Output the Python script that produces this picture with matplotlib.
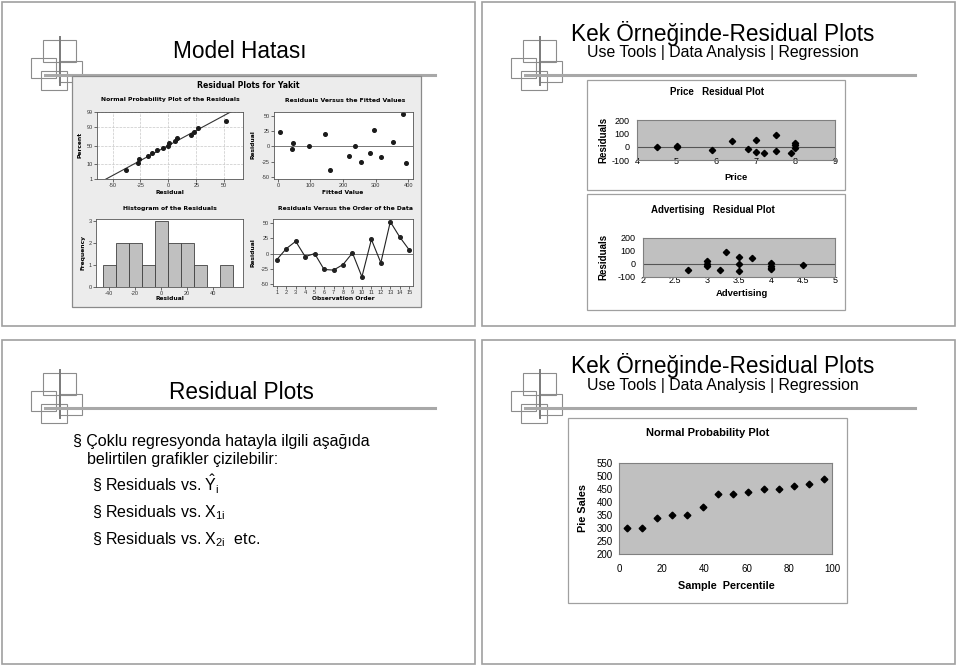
import matplotlib
matplotlib.use('Agg')
import matplotlib.pyplot as plt
from matplotlib.patches import Rectangle
from statistics import NormalDist

plt.rcParams['font.family'] = ['Liberation Sans', 'DejaVu Sans']
plt.rcParams['axes.unicode_minus'] = False
plt.rcParams['mathtext.fontset'] = 'custom'
plt.rcParams['mathtext.rm'] = 'Liberation Sans'
plt.rcParams['mathtext.it'] = 'Liberation Sans:italic'

# --- Minitab residual plots (Yakit) ---
obs_order = list(range(1, 16))
residuals = [-10, 8, 20, -5, 0, -26, -27, -18, 1, -38, 23, -15, 52, 27, 6]
fitted = [283, 354, 145, 44, 94, 255, 392, 318, 237, 160, 7, 218, 385, 294, 46]
npp_resid = [-38, -27, -26, -18, -15, -10, -5, 0, 1, 6, 8, 20, 23, 27, 52]
npp_percent = [4.5, 11.0, 17.5, 24.0, 30.5, 37.0, 43.5, 50.0, 56.5, 63.0, 69.5, 76.0, 82.5, 89.0, 95.5]
npp_ticks = [1, 10, 50, 90, 99]
line_mean, line_sd = 0, 24
hist_centers = [-40, -30, -20, -10, 0, 10, 20, 30, 40, 50]
hist_counts = [1, 2, 2, 1, 3, 2, 2, 1, 0, 1]

# --- Excel residual plots (pie sales) ---
price = [4.5, 5.0, 5.0, 5.9, 6.4, 6.8, 7.0, 7.0, 7.2, 7.5, 7.5, 7.9, 8.0, 8.0, 8.0]
price_resid = [-5, 2, -5, -25, 41, -18, 53, -43, -48, 89, -36, -48, 25, 15, -8]
adv = [2.7, 3.0, 3.0, 3.0, 3.2, 3.3, 3.5, 3.5, 3.5, 3.7, 4.0, 4.0, 4.0, 4.0, 4.5]
adv_resid = [-43, 25, 0, -15, -50, 96, 53, -3, -55, 48, 5, -15, -28, -35, -10]
pie_pct = [3.6, 10.7, 17.9, 25.0, 32.1, 39.3, 46.4, 53.6, 60.7, 67.9, 75.0, 82.1, 89.3, 96.4]
pie_sales = [300, 300, 340, 350, 350, 380, 430, 430, 440, 450, 450, 460, 470, 490]

W, H = 959, 667
fig = plt.figure(figsize=(W / 100, H / 100), dpi=100)
bg = fig.add_axes([0, 0, 1, 1])
bg.set_xlim(0, W)
bg.set_ylim(H, 0)
bg.axis('off')


def px_axes(x0, y0, x1, y1):
    return fig.add_axes([x0 / W, 1 - y1 / H, (x1 - x0) / W, (y1 - y0) / H])


def T(x, y, s, **kw):
    kw.setdefault('ha', 'center')
    kw.setdefault('va', 'center')
    fig.text(x / W, 1 - y / H, s, **kw)


def logo(ox, oy):
    for x0, y0, x1, y1 in [(43, 40, 76, 62), (31, 58, 56, 78), (59, 61, 82, 82), (41, 71, 67, 90)]:
        bg.add_patch(Rectangle((ox + x0, oy + y0), x1 - x0, y1 - y0, fill=False, ec='#8c8c8c', lw=0.8))
    bg.plot([ox + 60, ox + 60], [oy + 37, oy + 85], color='#7a7a7a', lw=1.4)
    bg.plot([ox + 45, ox + 435], [oy + 75, oy + 75], color='#a8a8a8', lw=2.2)


# slide frames
for ox, oy in [(0, 0), (480, 0), (0, 338), (480, 338)]:
    bg.add_patch(Rectangle((ox + 2, oy + 2), 473, 324, fill=False, ec='#a0a0a0', lw=1.2))
for ox, oy in [(0, 0), (480, 0), (0, 333), (480, 333)]:
    logo(ox, oy)

# ---------------- top-left slide ----------------
T(240, 52, 'Model Hatası', fontsize=16.3)
bg.add_patch(Rectangle((72, 76), 349, 231, fc='#ececec', ec='#8a8a8a', lw=0.9, zorder=3))
mt = dict(family='DejaVu Sans', fontweight='bold')
T(248, 86, 'Residual Plots for Yakit', fontsize=5.6, **mt)


def mt_style(ax):
    ax.tick_params(labelsize=4, length=2, width=0.5, pad=1, colors='#333333')
    for sp in ax.spines.values():
        sp.set_color('#555555')
        sp.set_linewidth(0.6)


nd = NormalDist()
zmax = nd.inv_cdf(0.99)

ax = px_axes(97, 112, 243, 179)
mt_style(ax)
z = [nd.inv_cdf(p / 100) for p in npp_percent]
ax.set_xticks([-50, -25, 0, 25, 50])
ax.set_yticks([nd.inv_cdf(p / 100) for p in npp_ticks])
ax.set_yticklabels([str(p) for p in npp_ticks])
ax.grid(True, ls='--', color='#c8c8c8', lw=0.5)
ax.plot([line_mean - 3 * line_sd, line_mean + 3 * line_sd], [-3, 3], color='#333333', lw=0.8)
ax.plot(npp_resid, z, 'o', color='#1a1a1a', ms=2.6)
ax.set_xlim(-64, 67)
ax.set_ylim(-zmax, zmax)
T(170, 100, 'Normal Probability Plot of the Residuals', fontsize=4.4, **mt)
T(170, 192, 'Residual', fontsize=4.3, **mt)
T(80, 145, 'Percent', fontsize=4.3, rotation=90, **mt)

ax = px_axes(274, 112, 413, 179)
mt_style(ax)
ax.axhline(0, color='#777777', lw=0.7)
ax.plot(fitted, residuals, 'o', color='#1a1a1a', ms=2.6)
ax.set_xlim(-12, 415)
ax.set_ylim(-53, 56)
ax.set_xticks([0, 100, 200, 300, 400])
ax.set_yticks([-50, -25, 0, 25, 50])
T(345, 100, 'Residuals Versus the Fitted Values', fontsize=4.4, **mt)
T(343, 192, 'Fitted Value', fontsize=4.3, **mt)
T(253, 145, 'Residual', fontsize=4.3, rotation=90, **mt)

ax = px_axes(96, 219, 243, 287)
mt_style(ax)
ax.bar(hist_centers, hist_counts, width=10, color='#c0c0c0', ec='#404040', lw=0.6)
ax.set_xlim(-50, 63)
ax.set_ylim(0, 3.1)
ax.set_xticks([-40, -20, 0, 20, 40])
ax.set_yticks([0, 1, 2, 3])
T(170, 209, 'Histogram of the Residuals', fontsize=4.4, **mt)
T(170, 299, 'Residual', fontsize=4.3, **mt)
T(83, 253, 'Frequency', fontsize=4.3, rotation=90, **mt)

ax = px_axes(273, 219, 413, 286)
mt_style(ax)
ax.axhline(0, color='#777777', lw=0.7)
ax.plot(obs_order, residuals, '-o', color='#222222', ms=2.6, lw=0.8)
ax.set_xlim(0.6, 15.4)
ax.set_ylim(-53, 56.5)
ax.set_xticks(obs_order)
ax.set_yticks([-50, -25, 0, 25, 50])
T(345, 209, 'Residuals Versus the Order of the Data', fontsize=4.4, **mt)
T(343, 299, 'Observation Order', fontsize=4.3, **mt)
T(253, 253, 'Residual', fontsize=4.3, rotation=90, **mt)


# ---------------- Excel style charts ----------------
def xl_style(ax, lsize=6.5):
    ax.set_facecolor('#c0c0c0')
    for sp in ax.spines.values():
        sp.set_color('#808080')
        sp.set_linewidth(0.8)
    ax.tick_params(labelsize=lsize, length=0)


for ox, oy in [(480, 0), (480, 333)]:
    T(ox + 243, oy + 33, 'Kek Örneğinde-Residual Plots', fontsize=16.3)
    T(ox + 243, oy + 52, 'Use Tools | Data Analysis | Regression', fontsize=11.4)

bg.add_patch(Rectangle((587, 80), 258, 110, fc='white', ec='#a0a0a0', lw=0.9))
bg.add_patch(Rectangle((587, 194), 258, 116, fc='white', ec='#a0a0a0', lw=0.9))

ax = px_axes(637, 120, 835, 160)
xl_style(ax)
ax.axhline(0, color='#555555', lw=0.8)
ax.plot(price, price_resid, 'D', color='black', ms=3.2)
ax.set_xlim(4, 9)
ax.set_ylim(-100, 200)
ax.set_xticks([4, 5, 6, 7, 8, 9])
ax.set_yticks([-100, 0, 100, 200])
ax.tick_params(axis='x', pad=-2.5)
ax.tick_params(axis='y', pad=5.5)
T(717, 92, 'Price   Residual Plot', fontsize=7, fontweight='bold')
T(736, 177, 'Price', fontsize=6.8, fontweight='bold')
T(603, 140, 'Residuals', fontsize=7, fontweight='bold', rotation=90)

ax = px_axes(643, 238, 835, 277)
xl_style(ax)
ax.axhline(0, color='#555555', lw=0.8)
ax.plot(adv, adv_resid, 'D', color='black', ms=3.2)
ax.set_xlim(2, 5)
ax.set_ylim(-100, 200)
ax.set_xticks([2, 2.5, 3, 3.5, 4, 4.5, 5])
ax.set_xticklabels(['2', '2.5', '3', '3.5', '4', '4.5', '5'])
ax.set_yticks([-100, 0, 100, 200])
ax.tick_params(axis='x', pad=-1)
ax.tick_params(axis='y', pad=5.5)
T(713, 210, 'Advertising   Residual Plot', fontsize=7, fontweight='bold')
T(742, 294, 'Advertising', fontsize=6.8, fontweight='bold')
T(603, 257, 'Residuals', fontsize=7, fontweight='bold', rotation=90)

# ---------------- bottom-right slide ----------------
bg.add_patch(Rectangle((568, 418), 279, 185, fc='white', ec='#a0a0a0', lw=0.9))
ax = px_axes(619, 463, 832, 554)
xl_style(ax, lsize=7)
ax.plot(pie_pct, pie_sales, 'D', color='black', ms=3.4)
ax.set_xlim(0, 100)
ax.set_ylim(200, 550)
ax.set_xticks([0, 20, 40, 60, 80, 100])
ax.set_yticks([200, 250, 300, 350, 400, 450, 500, 550])
ax.tick_params(axis='x', pad=7)
ax.tick_params(axis='y', pad=4.3)
T(708, 433, 'Normal Probability Plot', fontsize=8, fontweight='bold')
T(726, 586, 'Sample  Percentile', fontsize=7.8, fontweight='bold')
T(583, 508, 'Pie Sales', fontsize=7.8, fontweight='bold', rotation=90)

# ---------------- bottom-left slide ----------------
T(241, 392, 'Residual Plots', fontsize=16.3)
T(73, 446, '§ Çoklu regresyonda hatayla ilgili aşağıda', fontsize=11.5, ha='left', va='baseline')
T(87, 464, 'belirtilen grafikler çizilebilir:', fontsize=11.5, ha='left', va='baseline')
T(92, 491, r'§ Residuals vs. $\hat{\mathrm{Y}}_{\mathrm{i}}$', fontsize=11.5, ha='left', va='baseline')
T(92, 517, r'§ Residuals vs. $\mathrm{X}_{\mathrm{1i}}$', fontsize=11.5, ha='left', va='baseline')
T(92, 544, r'§ Residuals vs. $\mathrm{X}_{\mathrm{2i}}$  etc.', fontsize=11.5, ha='left', va='baseline')

fig.savefig('out.png', dpi=100)
